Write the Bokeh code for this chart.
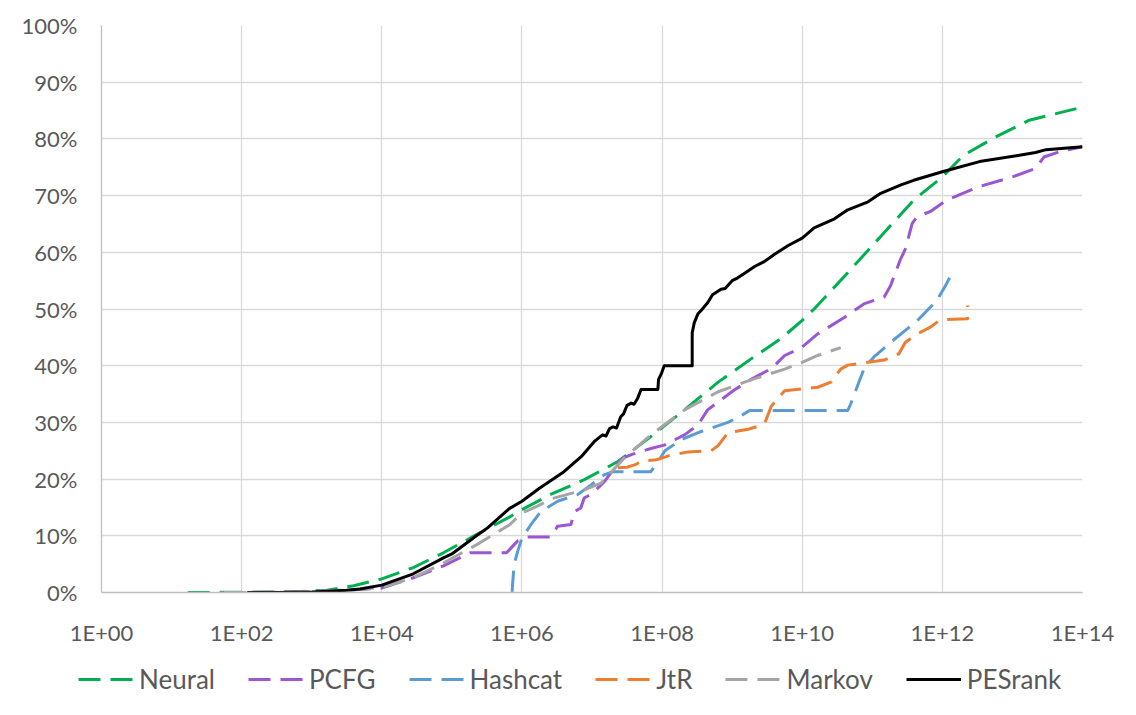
import numpy as np
from bokeh.plotting import figure
from bokeh.layouts import column, row
from bokeh.models import (FixedTicker, CustomJSTickFormatter, PrintfTickFormatter,
                          Legend, LegendItem, Range1d)
from bokeh.embed import file_html
from bokeh.resources import INLINE

# ---- data: guesses given as log10 exponents, cracked share in percent ----
series_names = ["Neural", "PCFG", "Hashcat", "JtR", "Markov", "PESrank"]

neural_exp = [1.23, 2.0, 2.74, 3.22, 3.6, 4.0, 4.45, 4.88, 5.35, 5.82, 6.0, 6.41, 6.89, 7.37, 7.84,
              8.32, 8.8, 9.27, 9.7, 10.0, 10.17, 10.65, 11.12, 11.59, 12.0, 12.3, 12.77, 13.24, 14.0]
neural_pct = [0.0, 0.05, 0.1, 0.4, 1.2, 2.4, 4.4, 7.0, 10.2, 13.3, 14.6, 17.3, 19.9, 23.1, 27.5,
              32.2, 37.1, 41.2, 44.8, 48.0, 50.0, 56.4, 62.8, 69.2, 73.3, 77.1, 80.4, 83.3, 85.6]

pcfg_exp = [1.7, 2.5, 3.0, 3.6, 4.0, 4.45, 4.88, 5.26, 5.78, 5.94, 6.08, 6.41, 6.51, 6.7, 6.75, 6.84,
            6.89, 6.99, 7.18, 7.37, 7.44, 7.58, 7.84, 8.03, 8.32, 8.51, 8.65, 8.8, 9.03, 9.27, 9.56,
            9.75, 9.99, 10.22, 10.6, 10.88, 11.17, 11.26, 11.33, 11.4, 11.47, 11.52, 11.57, 11.64,
            11.83, 12.06, 12.53, 13.0, 13.33, 13.45, 13.71, 14.0]
pcfg_pct = [0.0, 0.05, 0.2, 0.5, 0.8, 2.6, 4.7, 7.0, 7.0, 9.1, 9.8, 9.8, 11.7, 12.0, 14.3, 14.9,
            16.7, 17.3, 19.6, 22.8, 23.7, 24.4, 25.4, 26.0, 27.8, 29.5, 32.2, 33.6, 35.7, 37.6, 39.5,
            41.8, 43.2, 45.6, 48.5, 50.9, 52.1, 54.1, 56.4, 58.7, 60.5, 62.8, 65.1, 66.3,
            67.2, 69.2, 71.6, 73.3, 74.8, 76.8, 77.9, 78.6]

hashcat_exp = [5.86, 5.865, 5.875, 5.89, 5.94, 6.0, 6.13, 6.27, 6.51, 6.8, 6.99, 7.18, 7.3, 7.84,
               7.94, 8.04, 8.28, 8.56, 8.94, 9.13, 9.25, 10.65, 10.69, 10.88, 11.02, 11.26, 11.64,
               11.92, 12.04, 12.12]
hashcat_pct = [0.0, 1.2, 2.8, 5.0, 7.3, 9.6, 12.0, 14.3, 16.1, 17.3, 19.0, 20.8, 21.3, 21.3,
               23.0, 25.0, 27.0, 28.4, 30.0, 31.2, 32.1, 32.1, 33.2, 39.4, 41.5, 44.1, 47.9,
               51.5, 54.0, 55.9]

jtr_exp = [7.37, 7.5, 7.63, 7.7, 7.92, 8.09, 8.37, 8.7, 8.8, 8.94, 9.23, 9.42, 9.47, 9.56, 9.75,
           10.22, 10.41, 10.55, 10.65, 11.17, 11.38, 11.47, 11.64, 11.83, 11.97, 12.36, 12.36]
jtr_pct = [22.0, 22.1, 22.6, 23.2, 23.4, 24.1, 24.8, 25.0, 25.9, 28.2, 28.8, 29.5, 30.0, 32.9, 35.6,
           36.2, 37.1, 39.4, 40.1, 41.0, 42.1, 44.1, 45.6, 46.8, 48.1, 48.3, 50.6]

markov_exp = [1.75, 2.5, 3.0, 3.6, 4.0, 4.45, 4.88, 5.35, 5.82, 6.0, 6.25, 6.41, 6.89, 7.13, 7.46,
              7.84, 8.32, 8.8, 9.27, 9.75, 10.0, 10.22, 10.55]
markov_pct = [0.0, 0.05, 0.2, 0.5, 0.9, 2.6, 5.2, 8.4, 11.9, 14.0, 15.4, 16.5, 18.1, 19.3, 23.7,
              27.8, 32.2, 35.4, 37.5, 39.4, 40.6, 41.8, 43.2]

pesrank_exp = [2.08, 2.5, 3.0, 3.5, 3.69, 4.0, 4.45, 4.88, 5.0, 5.35, 5.51, 5.82, 6.0, 6.25, 6.6,
               6.85, 7.03, 7.15, 7.2, 7.25, 7.3, 7.35, 7.41, 7.45, 7.5, 7.56, 7.6, 7.65, 7.7, 7.94,
               7.95, 7.99, 8.03, 8.43, 8.43, 8.46, 8.51, 8.56, 8.65, 8.72, 8.84, 8.9, 9.0, 9.08,
               9.2, 9.32, 9.45, 9.6, 9.8, 10.0, 10.17, 10.46, 10.65, 10.94, 11.12, 11.41, 11.59,
               12.0, 12.53, 13.1, 13.33, 13.48, 14.0]
pesrank_pct = [0.0, 0.02, 0.1, 0.4, 0.6, 1.3, 3.3, 6.1, 6.8, 10.0, 11.4, 14.8, 16.1, 18.4, 21.3,
               24.0, 26.6, 27.8, 27.6, 28.9, 29.2, 29.0, 31.0, 31.5, 33.0, 33.4, 33.2, 34.2, 35.8, 35.8,
               37.6, 38.6, 40.0, 40.0, 45.8, 47.6, 49.1, 49.8, 51.1, 52.5, 53.5, 53.6, 55.0, 55.5,
               56.5, 57.5, 58.3, 59.6, 61.2, 62.5, 64.3, 65.9, 67.5, 68.9, 70.4, 71.9, 72.7,
               74.2, 76.0, 77.1, 77.6, 78.1, 78.6]

x_tick_exps = [0, 2, 4, 6, 8, 10, 12, 14]
y_ticks = [0, 10, 20, 30, 40, 50, 60, 70, 80, 90, 100]

series = [
    ("Neural", neural_exp, neural_pct, "#00B050", "22 10"),
    ("PCFG", pcfg_exp, pcfg_pct, "#9B57D3", "22 10"),
    ("Hashcat", hashcat_exp, hashcat_pct, "#5B9BD5", "22 10"),
    ("JtR", jtr_exp, jtr_pct, "#ED7D31", "22 10"),
    ("Markov", markov_exp, markov_pct, "#A5A5A5", "22 10"),
    ("PESrank", pesrank_exp, pesrank_pct, "#000000", "solid"),
]

FONT = "Lato"
TXT = "#595959"

# ---------------- main chart ----------------
p = figure(x_axis_type="log", x_range=(1, 1e14), y_range=(0, 100),
           width=1120, height=648,
           min_border_left=101, min_border_top=25, min_border_right=38, min_border_bottom=53,
           output_backend="svg", toolbar_location=None)
p.background_fill_color = "white"
p.outline_line_color = None

p.xaxis.ticker = FixedTicker(ticks=[10.0 ** e for e in x_tick_exps], minor_ticks=[])
p.xaxis.formatter = CustomJSTickFormatter(code="""
const e = Math.round(Math.log10(tick));
return '1E+' + (e < 10 ? '0' : '') + e;
""")
p.yaxis.ticker = FixedTicker(ticks=y_ticks, minor_ticks=[])
p.yaxis.formatter = PrintfTickFormatter(format="%d%%")

for ax in (p.xaxis[0], p.yaxis[0]):
    ax.axis_line_color = "#BFBFBF"
    ax.axis_line_width = 1.3
    ax.major_tick_line_color = None
    ax.minor_tick_line_color = None
    ax.major_label_text_font = FONT
    ax.major_label_text_font_size = "22px"
    ax.major_label_text_color = TXT
p.yaxis.major_label_standoff = 18
p.xaxis.major_label_standoff = 20

p.xgrid.grid_line_color = "#D9D9D9"
p.ygrid.grid_line_color = "#D9D9D9"
p.xgrid.grid_line_width = 1.3
p.ygrid.grid_line_width = 1.3

for name, ex, pc, col, dash in series:
    xs = [10.0 ** e for e in ex]
    p.line(xs, pc, line_color=col, line_width=3, line_dash=dash,
           line_join="round", line_cap="butt")

# ---------------- legend strip (same series, ranges chosen so only the legend shows) -------
lg = figure(width=1120, height=62, x_axis_type="log",
            x_range=Range1d(1, 1e14), y_range=Range1d(500, 600),
            x_axis_location=None, y_axis_location=None,
            min_border_left=0, min_border_right=0, min_border_top=0, min_border_bottom=0,
            output_backend="svg", toolbar_location=None)
lg.outline_line_color = None
lg.xgrid.visible = False
lg.ygrid.visible = False

items = []
for name, ex, pc, col, dash in series:
    xs = [10.0 ** e for e in ex]
    r = lg.line(xs, pc, line_color=col, line_width=3, line_dash=dash, line_cap="butt")
    items.append(LegendItem(label=name, renderers=[r]))

legend = Legend(items=items, orientation="horizontal", location=(78, 15),
                label_text_font=FONT, label_text_font_size="26px", label_text_color=TXT,
                glyph_width=55, glyph_height=20, label_standoff=6, spacing=33,
                border_line_color=None, background_fill_alpha=0, margin=0, padding=4)
lg.add_layout(legend, "center")

layout = column(p, row(lg), spacing=0)
open("out.html", "w").write(file_html(layout, INLINE))
